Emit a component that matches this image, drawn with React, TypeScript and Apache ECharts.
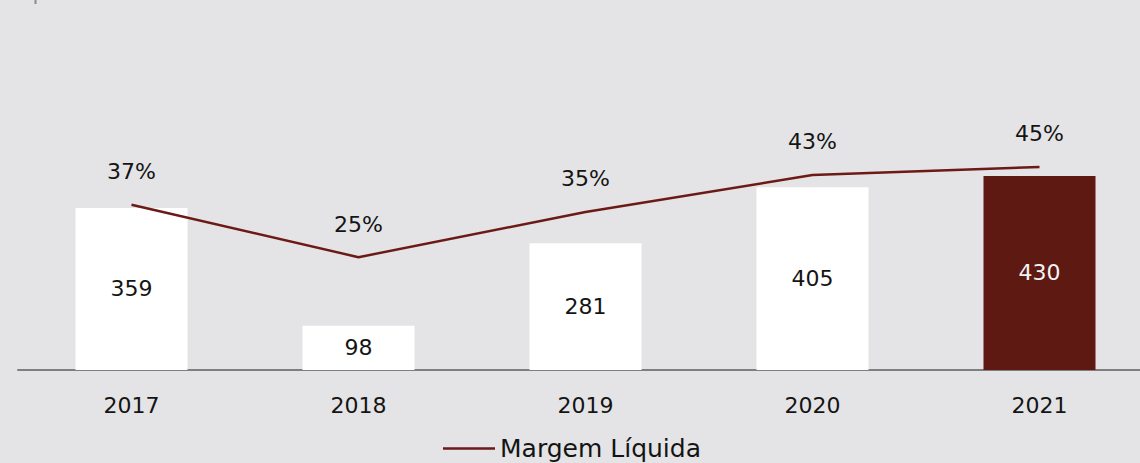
import React, { useEffect, useRef } from "react";
import * as echarts from "echarts";

const categories = ["2017", "2018", "2019", "2020", "2021"];
const lucroValues = [359, 98, 281, 405, 430];
const margemValues = [36.6, 25, 35, 43.2, 45];
const legendName = "Margem Líquida";

const FONT = "'DejaVu Sans', sans-serif";
const FW = "normal";
const TXT = "#141414";

export default function App() {
  const ref = useRef<HTMLDivElement>(null);
  useEffect(() => {
    if (!ref.current) return;
    const chart = echarts.init(ref.current, null, { renderer: "svg" });
    const plotH = 800 * 0.4513;
    chart.setOption({
      animation: false,
      backgroundColor: "#e4e4e6",
      textStyle: { fontFamily: FONT },
      graphic: [
        {
          type: "line",
          shape: { x1: 35.5, y1: 0, x2: 35.5, y2: 4 },
          style: { stroke: "#8a8a8a", lineWidth: 2 },
        },
      ],
      legend: {
        data: [legendName],
        left: 438,
        top: 431,
        icon: "rect",
        itemWidth: 52,
        itemHeight: 2.5,
        itemGap: 6,
        textStyle: { fontSize: 25, color: TXT, fontFamily: FONT, fontWeight: FW },
      },
      grid: { left: 18, top: 370 - plotH, width: 1135, height: plotH },
      xAxis: {
        type: "category",
        data: categories,
        axisLine: { lineStyle: { color: "#7f7f7f", width: 2 } },
        axisTick: { show: false },
        axisLabel: { fontSize: 22, color: TXT, margin: 24, fontFamily: FONT, fontWeight: FW },
      },
      yAxis: [
        { type: "value", min: 0, max: 800, show: false, splitLine: { show: false } },
        { type: "value", min: 0, max: 80, show: false, splitLine: { show: false } },
      ],
      series: [
        {
          type: "bar",
          yAxisIndex: 0,
          barWidth: 112,
          data: lucroValues.map((v, i) =>
            i === lucroValues.length - 1
              ? { value: v, itemStyle: { color: "#5e1913" }, label: { color: "#f4f4f4" } }
              : { value: v }
          ),
          itemStyle: { color: "#ffffff" },
          label: {
            show: true,
            position: "inside",
            fontSize: 22,
            color: TXT,
            fontFamily: FONT,
            fontWeight: FW,
          },
        },
        {
          type: "line",
          name: legendName,
          yAxisIndex: 1,
          data: margemValues,
          symbol: "circle",
          symbolSize: 0.1,
          lineStyle: { color: "#6b1a16", width: 2.5 },
          itemStyle: { color: "#6b1a16" },
          label: {
            show: true,
            position: "top",
            distance: 22,
            fontSize: 22,
            color: TXT,
            fontFamily: FONT,
            fontWeight: FW,
            formatter: (p: any) => Math.round(p.value) + "%",
          },
        },
      ],
    });
    return () => chart.dispose();
  }, []);
  return (
    <div style={{ position: "absolute", left: 0, top: 0, width: 1140, height: 463, overflow: "hidden" }}>
      <div ref={ref} style={{ position: "absolute", left: 0, top: 0, width: 1170, height: 463 }} />
    </div>
  );
}
